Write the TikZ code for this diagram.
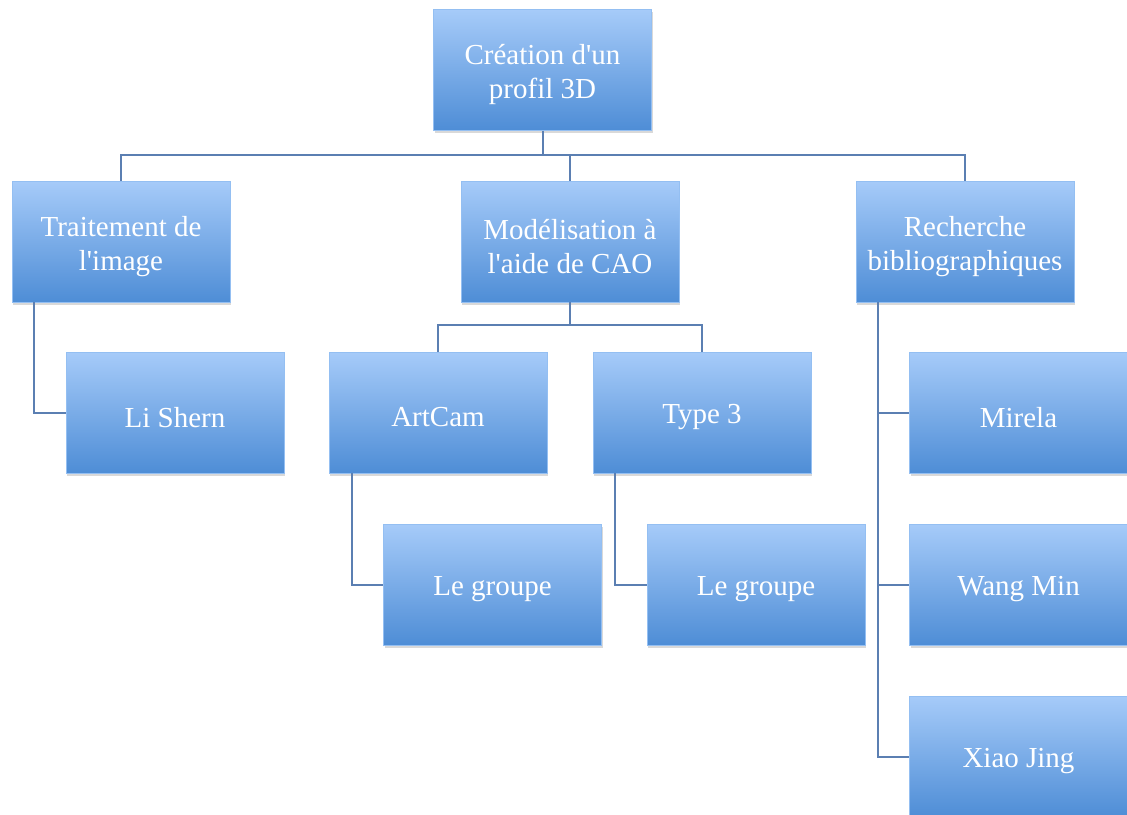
\documentclass[tikz,border=0pt]{standalone}
\usepackage{fontspec}
\setmainfont{Liberation Serif}
\usetikzlibrary{shadows}
\definecolor{boxtop}{HTML}{A6CBF9}
\definecolor{boxbot}{HTML}{4E8DD6}
\definecolor{linec}{HTML}{5B7FB2}
\tikzset{
  box/.style={rectangle, minimum width=218pt, minimum height=121pt, inner sep=0pt,
    top color=boxtop, bottom color=boxbot, draw=boxtop!80!boxbot, line width=0.4pt,
    drop shadow={shadow xshift=1pt, shadow yshift=-2.5pt, opacity=0.25, fill=black!60},
    label={[lbl]center:#1}},
  lbl/.style={text=white, align=center, font=\fontsize{29}{34}\selectfont, yshift=-5pt, inner sep=0pt},
  conn/.style={draw=linec, line width=2pt}
}
\begin{document}
\begin{tikzpicture}[x=1pt,y=1pt]
\useasboundingbox (0,0) rectangle (1127,-814);
\clip (0,0) rectangle (1127,-814);
\node[box={Création d\textquotesingle un\\profil 3D}] (root) at (542.5,-70) {};
\node[box={Traitement de\\l\textquotesingle image}] (trait) at (121,-241.5) {};
\node[box={Modélisation à\\l\textquotesingle aide de CAO}] (model) at (570,-241.5) {};
\node[box={Recherche\\bibliographiques}] (rech) at (965,-241.5) {};
\coordinate (bus) at (0,-155);
\coordinate (bus2) at (0,-325);
\draw[conn] (root.south) -- (root.south |- bus);
\draw[conn] (trait.north) -- (trait.north |- bus) -- (rech.north |- bus) -- (rech.north);
\draw[conn] (model.north) -- (model.north |- bus);
\draw[conn] (model.south) -- (model.south |- bus2);
\node[box={Li Shern}] (li) at (175,-412.5) {};
\node[box={ArtCam}] (artcam) at (438,-412.5) {};
\node[box={Type 3}] (type3) at (702,-412.5) {};
\node[box={Le groupe}] (g1) at (492.5,-584.5) {};
\node[box={Le groupe}] (g2) at (756,-584.5) {};
\node[box={Mirela}] (mirela) at (1018.5,-412.5) {};
\node[box={Wang Min}] (wang) at (1018.5,-584.5) {};
\node[box={Xiao Jing}] (xiao) at (1018.5,-756.5) {};
\draw[conn] (artcam.north) -- (artcam.north |- bus2) -- (type3.north |- bus2) -- (type3.north);
\coordinate (tl) at ([xshift=22pt]trait.south west);
\coordinate (al) at ([xshift=23pt]artcam.south west);
\coordinate (yl) at ([xshift=22pt]type3.south west);
\coordinate (rl) at ([xshift=22pt]rech.south west);
\draw[conn] (tl) |- (li.west);
\draw[conn] (al) |- (g1.west);
\draw[conn] (yl) |- (g2.west);
\draw[conn] (rl) |- (xiao.west);
\draw[conn] (rl |- mirela.west) -- (mirela.west);
\draw[conn] (rl |- wang.west) -- (wang.west);
\end{tikzpicture}
\end{document}
